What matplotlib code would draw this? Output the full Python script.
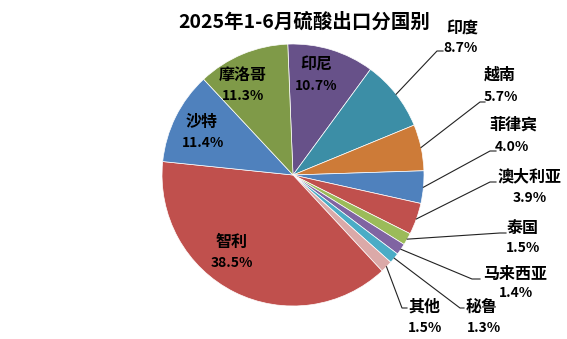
import matplotlib
matplotlib.use("Agg")
import matplotlib.pyplot as plt
import numpy as np

plt.rcParams['font.family'] = ['Noto Sans CJK SC', 'DejaVu Sans']

title = "2025年1-6月硫酸出口分国别"
countries = ["印尼", "印度", "越南", "菲律宾", "澳大利亚", "泰国", "马来西亚", "秘鲁", "其他", "智利", "沙特", "摩洛哥"]
shares = [10.7, 8.7, 5.7, 4.0, 3.9, 1.5, 1.4, 1.3, 1.5, 38.5, 11.4, 11.3]
colors = ["#675189", "#3C8EA6", "#CD7B38", "#4F81BD", "#C0504D", "#9BBB59",
          "#8064A2", "#4BACC6", "#DBA9A8", "#C0504D", "#4F81BD", "#7F9A48"]

W, H = 567, 339
fig = plt.figure(figsize=(W / 100, H / 100), dpi=100)
ax = fig.add_axes([0, 0, 1, 1])

cx, cy, R = 293, H - 175, 131
start = 92.3
wedges, _ = ax.pie(shares, colors=colors, startangle=start, counterclock=False,
                   center=(cx, cy), radius=R, frame=True,
                   wedgeprops=dict(edgecolor='white', linewidth=0.5))
ax.set_xlim(0, W)
ax.set_ylim(0, H)
ax.set_aspect('equal')
ax.axis('off')

# label layout (pixel coords, y from top): category centre, percent centre, leader elbow, leader end x
layout = {
    "印尼": dict(cat=(316, 65), pct=(316, 86)),
    "摩洛哥": dict(cat=(243, 75), pct=(243, 96)),
    "沙特": dict(cat=(202, 122), pct=(203, 143)),
    "智利": dict(cat=(232, 242), pct=(232, 263)),
    "印度": dict(cat=(462, 29), pct=(461, 48), elbow=(437, 51), end=443),
    "越南": dict(cat=(500, 75), pct=(501, 97), elbow=(480, 102), end=485),
    "菲律宾": dict(cat=(513, 125), pct=(512, 147), elbow=(490, 151), end=496),
    "澳大利亚": dict(cat=(530, 176), pct=(530, 198), elbow=(490, 182), end=496),
    "泰国": dict(cat=(523, 228), pct=(523, 248), elbow=(500, 233), end=506),
    "马来西亚": dict(cat=(515, 274), pct=(516, 293), elbow=(472, 279), end=480),
    "秘鲁": dict(cat=(482, 307), pct=(484, 328), elbow=(460, 308), end=464),
    "其他": dict(cat=(424, 307), pct=(425, 328), elbow=(402, 308), end=407),
}

for w, name, val in zip(wedges, countries, shares):
    L = layout[name]
    x, y = L["cat"]
    ax.text(x, H - y, name, ha='center', va='center', fontsize=11.5,
            fontweight='bold', color='black')
    x, y = L["pct"]
    ax.text(x, H - y, f"{val:.1f}%", ha='center', va='center', fontsize=10,
            fontweight='bold', color='black')
    if "elbow" in L:
        mid = np.deg2rad((w.theta1 + w.theta2) / 2)
        sx, sy = cx + R * np.cos(mid), cy + R * np.sin(mid)
        ex, ey = L["elbow"]
        ax.plot([sx, ex, L["end"]], [sy, H - ey, H - ey], color='#222222', lw=0.8)

ax.text(304, H - 22, title, ha='center', va='center', fontsize=14,
        fontweight='bold', color='black')

fig.savefig("out.png", dpi=100)
